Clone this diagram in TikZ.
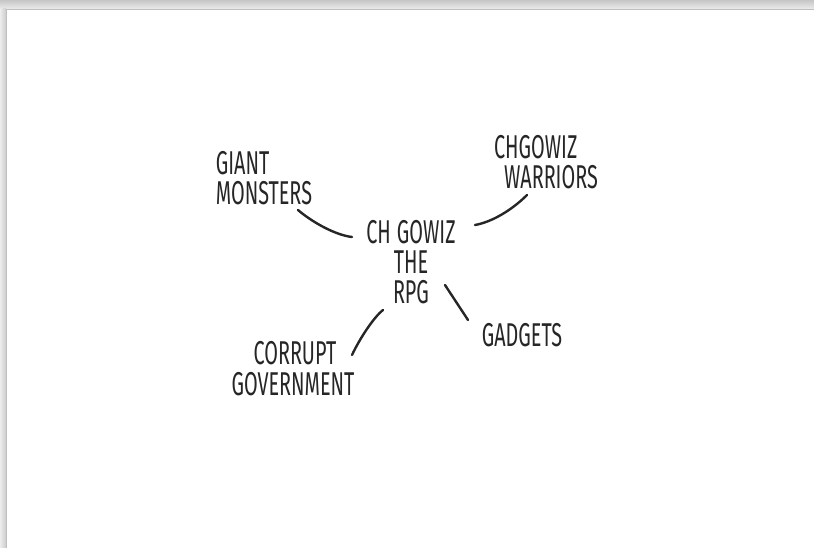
\documentclass[tikz,border=0pt]{standalone}
\usepackage{fontspec}
\setmainfont[FakeStretch=0.6]{Fira Sans}
\usetikzlibrary{calc}
\begin{document}
\begin{tikzpicture}[x=1pt,y=-1pt, line join=round, line cap=round,
  idea/.style={font=\fontsize{33}{30}\selectfont, text=black!85, inner sep=0pt, align=center},
  link/.style={draw=black!85, line width=2.4pt}]
\useasboundingbox (0,0) rectangle (814,548);
% paper with its shadow
\fill[white] (0,0) rectangle (814,548);
\shade[top color=gray!45, bottom color=gray!15] (0,0) rectangle (814,9);
\shade[left color=gray!15, right color=gray!40] (0,9) rectangle (6,548);
\draw[gray!50, line width=0.6pt] (6,548) -- (6,9) -- (814,9);
% ideas
\node[idea] (hub) at (411,262) {CH\hspace{6pt}GOWIZ\\THE\\RPG};
\node[idea, align=left] (giant) at (264,178) {GIANT\\MONSTERS};
\node[idea, align=left] (warriors) at (546,162) {CHGOWIZ\\\hspace{10pt}WARRIORS};
\node[idea] (gadgets) at (522,335) {GADGETS};
\node[idea, font=\fontsize{33}{31}\selectfont] (corrupt) at (293,369) {\hspace{4pt}CORRUPT\\GOVERNMENT};
% links
\draw[link] ($(giant)+(34,32)$) .. controls +(14,12) and +(-17,-2) .. ($(hub)+(-59,-25)$);
\draw[link] ($(hub)+(64,-37)$) .. controls +(17,-3) and +(-15,15) .. ($(warriors)+(-19,33)$);
\draw[link] ($(hub)+(-28,48)$) .. controls +(-9,7) and +(8,-17) .. ($(corrupt)+(59,-14)$);
\draw[link] ($(hub)+(34,23)$) -- ($(gadgets)+(-54,-15)$);
\end{tikzpicture}
\end{document}
